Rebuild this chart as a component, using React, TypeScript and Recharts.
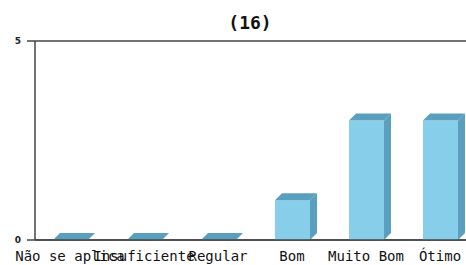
import { Bar, BarChart, CartesianGrid, XAxis, YAxis } from "recharts";

const categories = ["Não se aplica", "Insuficiente", "Regular", "Bom", "Muito Bom", "Ótimo"];
const counts = [0, 0, 0, 1, 3, 3];
const yTicks = [0, 5];
const title = "(16)";

const data = categories.map((label, i) => ({ label, value: counts[i] }));

const FRONT = "#87ceeb";
const DARK = "#5a9fbd";
const AXIS = "#444444";
const DEPTH = 7;

function Bar3D(props: any) {
  const { x, y, width, height } = props;
  const d = DEPTH;
  const top = `${x},${y} ${x + d},${y - d} ${x + width + d},${y - d} ${x + width},${y}`;
  const side = `${x + width},${y} ${x + width + d},${y - d} ${x + width + d},${y + height - d} ${x + width},${y + height}`;
  return (
    <g>
      {height > 0 && <rect x={x} y={y} width={width} height={height} fill={FRONT} />}
      <polygon points={top} fill={DARK} />
      {height > 0 && <polygon points={side} fill={DARK} />}
    </g>
  );
}

function CategoryTick(props: any) {
  const { x, y, payload } = props;
  return (
    <text
      x={x}
      y={y + 21}
      textAnchor="middle"
      fill="#111"
      fontSize={14}
      fontFamily="'DejaVu Sans Mono', monospace"
    >
      {payload.value}
    </text>
  );
}

export default function App() {
  return (
    <div
      style={{
        position: "fixed",
        left: 0,
        top: 0,
        width: 466,
        height: 265,
        overflow: "hidden",
        background: "#fff",
      }}
    >
      <div
        style={{
          position: "absolute",
          left: 0,
          width: 500,
          top: 13,
          textAlign: "center",
          fontFamily: "'DejaVu Sans Mono', monospace",
          fontWeight: "bold",
          fontSize: 18,
          lineHeight: "20px",
          color: "#111",
        }}
      >
        {title}
      </div>
      <BarChart
        width={490}
        height={265}
        data={data}
        barSize={35}
        margin={{ top: 41, right: 11, left: 0, bottom: 0 }}
      >
        <CartesianGrid vertical={false} stroke={AXIS} strokeWidth={1.5} />
        <XAxis
          dataKey="label"
          interval={0}
          height={25}
          padding={{ left: -2, right: 2 }}
          tickLine={false}
          tickSize={0}
          tickMargin={0}
          axisLine={{ stroke: AXIS, strokeWidth: 1.5 }}
          tick={<CategoryTick />}
        />
        <YAxis
          domain={[0, 5]}
          ticks={yTicks}
          width={35}
          tickSize={8}
          tickMargin={6}
          axisLine={{ stroke: AXIS, strokeWidth: 1.5 }}
          tickLine={{ stroke: AXIS, strokeWidth: 1.5 }}
          tick={{ fill: "#222", fontSize: 9, fontWeight: "bold", fontFamily: "'DejaVu Sans', sans-serif" }}
        />
        <Bar dataKey="value" shape={<Bar3D />} isAnimationActive={false} />
      </BarChart>
    </div>
  );
}
